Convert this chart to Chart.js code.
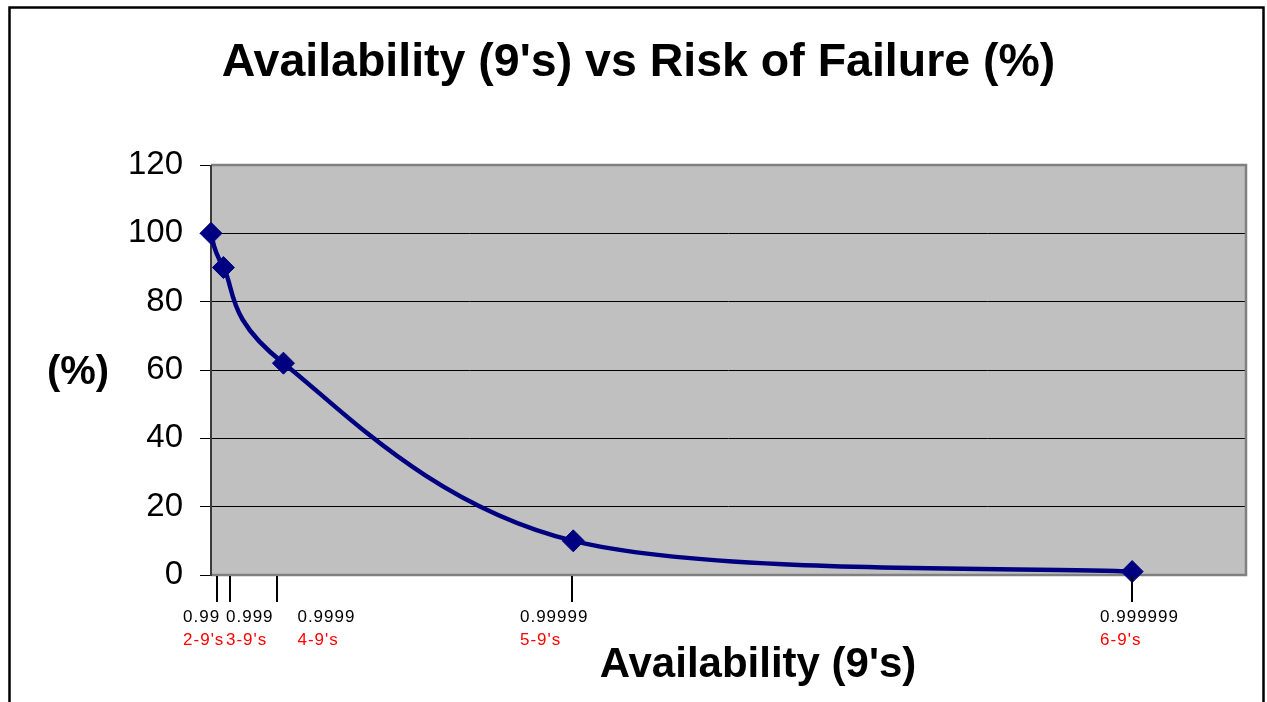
<!DOCTYPE html>
<html>
<head>
<meta charset="utf-8">
<title>Availability vs Risk of Failure</title>
<script src="https://cdn.jsdelivr.net/npm/chart.js@4/dist/chart.umd.min.js"></script>
<style>
    html, body { margin: 0; padding: 0; background: #fff; }
    #wrap { width: 1267px; height: 702px; position: relative; }
</style>
</head>
<body>
<div id="wrap"><canvas id="mainChart"></canvas></div>
<script>
// Data (x is position along the un-labelled availability axis)
const availabilityPos = [0, 1.2, 7, 35, 89];
const riskPct = [100, 90, 62, 10, 1];

// Hand-placed x-axis markers and their labels
const markerPos = [0.61, 1.88, 6.38, 34.85, 89];
const labelPos = [-2.7, 1.45, 8.35, 29.85, 85.9];
const availLabels = ['0.99', '0.999', '0.9999', '0.99999', '0.999999'];
const nineLabels = ["2-9's", "3-9's", "4-9's", "5-9's", "6-9's"];

const yTicks = [0, 20, 40, 60, 80, 100, 120];

const FONT = "'Liberation Sans', Arial, sans-serif";
const NAVY = '#000080';

// Excel-style smoothing: control points at 1/6 of the neighbour chord
const excelSmooth = {
    id: 'excelSmooth',
    beforeDatasetDraw(chart, args) {
        const line = args.meta.dataset;
        if (!line || !line.points) return;
        const pts = line.points;
        pts.forEach((p, i) => {
            const prev = pts[i - 1] || p;
            const next = pts[i + 1] || p;
            const dx = (next.x - prev.x) / 6;
            const dy = (next.y - prev.y) / 6;
            p.cp1x = p.x - dx;
            p.cp1y = p.y - dy;
            p.cp2x = p.x + dx;
            p.cp2y = p.y + dy;
        });
        line._pointsUpdated = true;
        line._path = undefined; // force the path to be rebuilt
    }
};

// Plot background + outer frame
const backdrop = {
    id: 'backdrop',
    beforeDraw(chart) {
        const { ctx, chartArea: a } = chart;
        ctx.save();
        ctx.fillStyle = '#fff';
        ctx.fillRect(0, 0, chart.width, chart.height);
        ctx.fillStyle = '#c0c0c0';
        ctx.fillRect(a.left, a.top, a.right - a.left, a.bottom - a.top);
        ctx.restore();
    },
    beforeDatasetsDraw(chart) {
        const { ctx, chartArea: a } = chart;
        ctx.save();
        // gray plot border (top, right, bottom)
        ctx.strokeStyle = '#808080';
        ctx.lineWidth = 2.5;
        ctx.beginPath();
        ctx.moveTo(a.left, a.top);
        ctx.lineTo(a.right, a.top);
        ctx.lineTo(a.right, a.bottom);
        ctx.lineTo(a.left, a.bottom);
        ctx.stroke();
        // dark left axis line
        ctx.strokeStyle = '#3a3a3a';
        ctx.lineWidth = 2;
        ctx.beginPath();
        ctx.moveTo(a.left, a.top);
        ctx.lineTo(a.left, a.bottom + 1);
        ctx.stroke();
        ctx.restore();
    },
    afterDraw(chart) {
        const { ctx, chartArea: a } = chart;
        const xs = chart.scales.x;
        ctx.save();

        // markers under the axis
        ctx.strokeStyle = '#000';
        ctx.lineWidth = 2;
        markerPos.forEach(v => {
            const px = Math.round(xs.getPixelForValue(v));
            ctx.beginPath();
            ctx.moveTo(px, a.bottom + 1);
            ctx.lineTo(px, a.bottom + 27);
            ctx.stroke();
        });

        // availability labels + 9's labels
        ctx.font = `17px ${FONT}`;
        ctx.letterSpacing = '1px';
        ctx.textAlign = 'left';
        ctx.textBaseline = 'alphabetic';
        labelPos.forEach((v, i) => {
            const px = xs.getPixelForValue(v);
            ctx.fillStyle = '#000';
            ctx.fillText(availLabels[i], px, 622);
            ctx.fillStyle = '#ff0000';
            ctx.fillText(nineLabels[i], px, 645);
        });
        ctx.letterSpacing = '0px';

        // titles
        ctx.fillStyle = '#000';
        ctx.textAlign = 'center';
        ctx.font = `bold 46.5px ${FONT}`;
        ctx.fillText("Availability (9's) vs Risk of Failure (%)", 638.5, 76);
        ctx.font = `bold 42px ${FONT}`;
        ctx.fillText("Availability (9's)", 758, 677);
        ctx.font = `bold 40px ${FONT}`;
        ctx.fillText('(%)', 78, 384);

        // outer chart frame
        ctx.strokeStyle = '#000';
        ctx.lineWidth = 2.5;
        ctx.strokeRect(9.5, 7.5, 1254, 740);
        ctx.restore();
    }
};

const ctx = document.getElementById('mainChart').getContext('2d');

const mainChart = new Chart(ctx, {
    type: 'scatter',
    data: {
        datasets: [{
            data: availabilityPos.map((x, i) => ({ x: x, y: riskPct[i] })),
            showLine: true,
            borderColor: NAVY,
            backgroundColor: NAVY,
            borderWidth: 4.5,
            tension: 0.4,
            pointStyle: 'rectRot',
            pointRadius: 11,
            pointBorderWidth: 1,
            pointBorderColor: NAVY,
            pointBackgroundColor: NAVY,
            clip: false
        }]
    },
    options: {
        responsive: true,
        maintainAspectRatio: false,
        animation: false,
        devicePixelRatio: 1,
        layout: { padding: { top: 165, right: 21, bottom: 127, left: 0 } },
        plugins: {
            legend: { display: false },
            title: { display: false },
            tooltip: { enabled: false }
        },
        scales: {
            x: { type: 'linear', min: 0, max: 100, display: false },
            y: {
                min: 0,
                max: 120,
                afterFit(scale) { scale.width = 211; },
                afterBuildTicks(scale) { scale.ticks = yTicks.map(v => ({ value: v })); },
                ticks: {
                    padding: 17,
                    color: '#000',
                    font: { family: FONT, size: 33 }
                },
                grid: {
                    color: '#000',
                    lineWidth: 1,
                    tickLength: 11,
                    drawTicks: true
                },
                border: { display: false }
            }
        }
    },
    plugins: [excelSmooth, backdrop]
});
</script>
</body>
</html>
